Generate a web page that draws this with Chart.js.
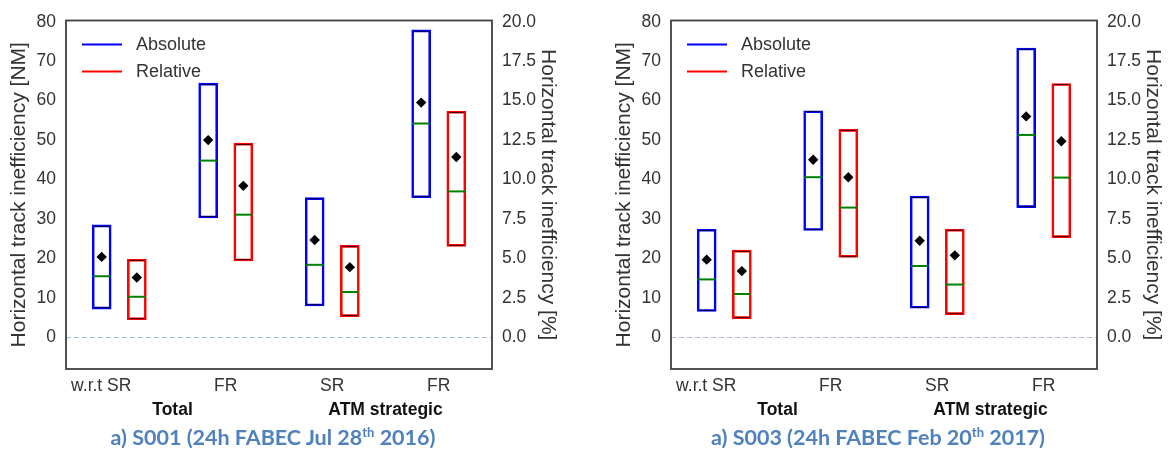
<!DOCTYPE html>
<html>
<head>
<meta charset="utf-8">
<title>Horizontal track inefficiency</title>
<script src="https://cdn.jsdelivr.net/npm/chart.js@4.4.1/dist/chart.umd.min.js"></script>
<style>
  html, body { margin: 0; padding: 0; background: #ffffff; }
  body { width: 1169px; height: 451px; position: relative; overflow: hidden; }
  .panel { position: absolute; top: 0; width: 564px; height: 451px; }
  .panel canvas { display: block; }
  .caption {
    position: absolute; left: 0; top: 424px; width: 546px;
    text-align: center; white-space: nowrap;
    font-family: Lato, "Open Sans", sans-serif; font-weight: 700; font-size: 21.5px;
    line-height: 26px; color: #4f81bd;
  }
  .caption sup { font-size: 13px; line-height: 0; vertical-align: 8px; }
</style>
</head>
<body>
<div class="panel" style="left:0px">
  <canvas id="chartS001" width="564" height="451"></canvas>
  <div class="caption">a) S001 (24h FABEC Jul 28<sup>th</sup> 2016)</div>
</div>
<div class="panel" style="left:605px">
  <canvas id="chartS003" width="564" height="451"></canvas>
  <div class="caption">a) S003 (24h FABEC Feb 20<sup>th</sup> 2017)</div>
</div>
<script>
// Categories and axis ticks
const categories = ['SR', 'FR', 'SR', 'FR'];
const firstLabelPrefix = 'w.r.t ';
const groupNames = ['Total', 'ATM strategic'];
const seriesNames = ['Absolute', 'Relative'];
const nmTicks = [0, 10, 20, 30, 40, 50, 60, 70, 80];
const pctTicks = [0, 2.5, 5, 7.5, 10, 12.5, 15, 17.5, 20];

// S001 - absolute inefficiency [NM]
const s001AbsLow = [7.1, 30.2, 7.9, 35.3];
const s001AbsHigh = [28.6, 64.5, 35.5, 78.0];
const s001AbsMedian = [15.5, 44.8, 18.4, 54.2];
const s001AbsMean = [20.4, 50.0, 24.7, 59.5];
// S001 - relative inefficiency (drawn on the NM axis, read on the % axis)
const s001RelLow = [4.4, 19.3, 5.2, 23.0];
const s001RelHigh = [19.9, 49.3, 23.4, 57.4];
const s001RelMedian = [10.3, 31.1, 11.5, 37.0];
const s001RelMean = [15.2, 38.4, 17.8, 45.7];

// S003 - absolute inefficiency [NM]
const s003AbsLow = [6.5, 27.0, 7.3, 32.8];
const s003AbsHigh = [27.5, 57.5, 35.9, 73.4];
const s003AbsMedian = [14.7, 40.6, 18.1, 51.3];
const s003AbsMean = [19.7, 45.0, 24.5, 56.0];
// S003 - relative inefficiency
const s003RelLow = [4.7, 20.2, 5.7, 25.2];
const s003RelHigh = [22.2, 52.8, 27.5, 64.4];
const s003RelMedian = [11.0, 32.9, 13.4, 40.5];
const s003RelMean = [16.8, 40.6, 20.8, 49.7];

const FONT = '"Liberation Sans", Arial, Helvetica, sans-serif';
const TEXT = '#333333';
const BLUE = '#0000ff';
const RED = '#ff0000';
const MEDIAN = '#008000';

Chart.defaults.font.family = FONT;
Chart.defaults.color = TEXT;

// Medians, means, zero line, legend, frame and category labels
const boxDecor = {
  id: 'boxDecor',
  beforeDatasetsDraw(chart) {
    const {ctx, chartArea} = chart;
    const y0 = chart.scales.y.getPixelForValue(0);
    ctx.save();
    ctx.strokeStyle = '#a7bddb';
    ctx.lineWidth = 1.2;
    ctx.setLineDash([5, 3]);
    ctx.beginPath();
    ctx.moveTo(chartArea.left, Math.round(y0) + 0.5);
    ctx.lineTo(chartArea.right, Math.round(y0) + 0.5);
    ctx.stroke();
    ctx.restore();
  },
  afterDatasetsDraw(chart) {
    const {ctx, chartArea} = chart;
    const yScale = chart.scales.y;
    ctx.save();
    chart.data.datasets.forEach((ds, di) => {
      const meta = chart.getDatasetMeta(di);
      meta.data.forEach((bar, i) => {
        const half = bar.width / 2;
        const [lo, hi] = ds.data[i];
        // dark caps at both ends of the box
        ctx.strokeStyle = 'rgba(0,0,0,0.7)';
        ctx.lineWidth = 1;
        [hi, lo].forEach((v, k) => {
          const yy = Math.round(yScale.getPixelForValue(v)) + (k === 0 ? 1 : -2) + 0.5;
          ctx.beginPath();
          ctx.moveTo(bar.x - half + 2.5, yy);
          ctx.lineTo(bar.x + half - 2.5, yy);
          ctx.stroke();
        });
        // median
        const ym = yScale.getPixelForValue(ds.medians[i]);
        ctx.strokeStyle = MEDIAN;
        ctx.lineWidth = 2;
        ctx.beginPath();
        ctx.moveTo(bar.x - half + 1, ym);
        ctx.lineTo(bar.x + half - 1, ym);
        ctx.stroke();
        // mean
        const yv = yScale.getPixelForValue(ds.means[i]);
        const r = 5.2;
        ctx.fillStyle = '#000000';
        ctx.beginPath();
        ctx.moveTo(bar.x, yv - r);
        ctx.lineTo(bar.x + r, yv);
        ctx.lineTo(bar.x, yv + r);
        ctx.lineTo(bar.x - r, yv);
        ctx.closePath();
        ctx.fill();
      });
    });

    // legend in the upper left of the plot
    ctx.font = '18px ' + FONT;
    ctx.textBaseline = 'middle';
    ctx.textAlign = 'left';
    chart.data.datasets.forEach((ds, di) => {
      const ly = chartArea.top + 24 + di * 27;
      ctx.strokeStyle = ds.borderColor;
      ctx.lineWidth = 2.2;
      ctx.beginPath();
      ctx.moveTo(chartArea.left + 16, ly);
      ctx.lineTo(chartArea.left + 56, ly);
      ctx.stroke();
      ctx.fillStyle = TEXT;
      ctx.fillText(ds.label, chartArea.left + 70, ly + 1);
    });

    // plot frame
    ctx.strokeStyle = '#404040';
    ctx.lineWidth = 1.8;
    ctx.strokeRect(chartArea.left, chartArea.top, chartArea.right - chartArea.left, chartArea.bottom - chartArea.top);
    ctx.restore();
  },
  afterDraw(chart) {
    const {ctx, chartArea} = chart;
    const xScale = chart.scales.x;
    ctx.save();
    ctx.textBaseline = 'middle';
    ctx.textAlign = 'center';
    ctx.fillStyle = TEXT;
    ctx.font = '17.5px ' + FONT;
    const labelY = chartArea.bottom + 17;
    categories.forEach((c, i) => {
      const x = xScale.getPixelForValue(i);
      ctx.textAlign = 'center';
      ctx.fillText(c, x, labelY);
      if (i === 0) {
        ctx.textAlign = 'right';
        ctx.fillText(firstLabelPrefix, x - ctx.measureText(c).width / 2, labelY);
      }
    });
    ctx.textAlign = 'center';
    ctx.fillStyle = '#111111';
    ctx.font = 'bold 17.5px ' + FONT;
    groupNames.forEach((g, gi) => {
      const x = (xScale.getPixelForValue(2 * gi) + xScale.getPixelForValue(2 * gi + 1)) / 2;
      ctx.fillText(g, x, chartArea.bottom + 41);
    });
    ctx.restore();
  }
};

function makeChart(canvasId, abs, rel) {
  const boxDataset = (label, s, color) => ({
    label: label,
    data: s.low.map((v, i) => [v, s.high[i]]),
    medians: s.median,
    means: s.mean,
    backgroundColor: 'rgba(0,0,0,0)',
    borderColor: color,
    borderWidth: 2.6,
    borderSkipped: false,
    categoryPercentage: 0.66,
    barPercentage: 0.56,
    yAxisID: 'y'
  });
  return new Chart(document.getElementById(canvasId), {
    type: 'bar',
    data: {
      labels: categories,
      datasets: [
        boxDataset(seriesNames[0], abs, BLUE),
        boxDataset(seriesNames[1], rel, RED)
      ]
    },
    options: {
      responsive: false,
      animation: false,
      events: [],
      layout: { padding: { top: 18, bottom: 82, left: 0, right: 0 } },
      plugins: { legend: { display: false }, tooltip: { enabled: false }, title: { display: false } },
      scales: {
        x: { display: false },
        y: {
          position: 'left',
          min: -8, max: 80.3,
          afterBuildTicks: (s) => { s.ticks = nmTicks.map(v => ({ value: v })); },
          afterFit: (s) => { s.width = 66; },
          grid: { display: false, drawTicks: false },
          border: { display: false },
          ticks: { padding: 10, font: { size: 17.5 }, color: TEXT },
          title: {
            display: true, text: 'Horizontal track inefficiency [NM]',
            font: { size: 21 }, color: TEXT, padding: { top: 7, bottom: 0 }
          }
        },
        y2: {
          position: 'right',
          min: -2, max: 20.075,
          afterBuildTicks: (s) => { s.ticks = pctTicks.map(v => ({ value: v })); },
          afterFit: (s) => { s.width = 72; },
          grid: { display: false, drawTicks: false },
          border: { display: false },
          ticks: { padding: 10, font: { size: 17.5 }, color: TEXT, callback: (v) => Number(v).toFixed(1) },
          title: {
            display: true, text: 'Horizontal track inefficiency [%]',
            font: { size: 21 }, color: TEXT, padding: { top: 4, bottom: 0 }
          }
        }
      }
    },
    plugins: [boxDecor]
  });
}

makeChart('chartS001',
  { low: s001AbsLow, high: s001AbsHigh, median: s001AbsMedian, mean: s001AbsMean },
  { low: s001RelLow, high: s001RelHigh, median: s001RelMedian, mean: s001RelMean });
makeChart('chartS003',
  { low: s003AbsLow, high: s003AbsHigh, median: s003AbsMedian, mean: s003AbsMean },
  { low: s003RelLow, high: s003RelHigh, median: s003RelMedian, mean: s003RelMean });
</script>
</body>
</html>
